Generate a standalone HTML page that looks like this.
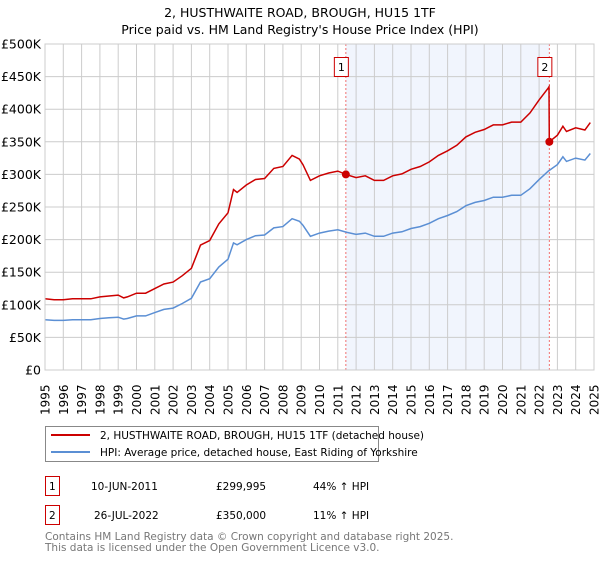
<!DOCTYPE html>
<html><head><meta charset="utf-8"><style>
body{margin:0;background:#fff;font-family:"Liberation Sans","DejaVu Sans",sans-serif;}
svg text{font-family:"DejaVu Sans","Liberation Sans",sans-serif;}
</style></head><body>
<svg id="c" width="600" height="560" viewBox="0 0 600 560" xmlns="http://www.w3.org/2000/svg">
<text x="300" y="17" text-anchor="middle" font-size="12.5">2, HUSTHWAITE ROAD, BROUGH, HU15 1TF</text>
<text x="300" y="34" text-anchor="middle" font-size="12.5">Price paid vs. HM Land Registry's House Price Index (HPI)</text>
<g id="grid"></g><g id="series"></g>
<g>
<rect x="45.5" y="426.5" width="333" height="35" fill="#fff" stroke="#888"/>
<line x1="51" y1="435" x2="90" y2="435" stroke="#cc0000" stroke-width="2"/>
<text x="100" y="439" font-size="10.5">2, HUSTHWAITE ROAD, BROUGH, HU15 1TF (detached house)</text>
<line x1="51" y1="452" x2="90" y2="452" stroke="#5b8fd4" stroke-width="2"/>
<text x="100" y="456" font-size="10.5">HPI: Average price, detached house, East Riding of Yorkshire</text>
</g>
<g font-size="10.5">
<rect x="45.5" y="476.5" width="14" height="19" fill="#fff" stroke="#cc0000"/><text x="49" y="490">1</text>
<text x="91" y="490">10-JUN-2011</text><text x="216" y="490">£299,995</text><text x="313" y="490">44% ↑ HPI</text>
<rect x="45.5" y="505.5" width="14" height="19" fill="#fff" stroke="#cc0000"/><text x="49" y="519">2</text>
<text x="94" y="519">26-JUL-2022</text><text x="216" y="519">£350,000</text><text x="313" y="519">11% ↑ HPI</text>
</g>
<text x="45" y="540" font-size="10.5" fill="#777">Contains HM Land Registry data © Crown copyright and database right 2025.</text>
<text x="45" y="551" font-size="10.5" fill="#777">This data is licensed under the Open Government Licence v3.0.</text>
</svg>
<script>
const hpiYears=[1995,1995.5,1996,1996.5,1997,1997.5,1998,1998.5,1999,1999.3,1999.5,2000,2000.5,2001,2001.5,2002,2002.5,2003,2003.5,2004,2004.5,2005,2005.3,2005.5,2006,2006.5,2007,2007.5,2008,2008.5,2008.9,2009.1,2009.5,2010,2010.5,2011,2011.5,2012,2012.5,2013,2013.5,2014,2014.5,2015,2015.5,2016,2016.5,2017,2017.5,2018,2018.5,2019,2019.5,2020,2020.5,2021,2021.5,2022,2022.5,2023,2023.3,2023.5,2024,2024.5,2024.8];
const hpiValues=[77,76,76,77,77,77,79,80,81,78,79,83,83,88,93,95,102,110,135,140,158,170,195,192,200,206,207,218,220,232,228,222,205,210,213,215,211,208,210,205,205,210,212,217,220,225,232,237,243,252,257,260,265,265,268,268,278,292,305,315,327,320,325,322,332];
const saleYears=[2011.44,2022.56];
const salePrices=[299995,350000];
const saleLabels=["1","2"];
const yTicks=[0,50,100,150,200,250,300,350,400,450,500];
const yTickLabels=["£0","£50K","£100K","£150K","£200K","£250K","£300K","£350K","£400K","£450K","£500K"];
const xTicks=[1995,1996,1997,1998,1999,2000,2001,2002,2003,2004,2005,2006,2007,2008,2009,2010,2011,2012,2013,2014,2015,2016,2017,2018,2019,2020,2021,2022,2023,2024,2025];
const NS="http://www.w3.org/2000/svg";
const X0=45,X1=594,Y0=370,Y1=44;
const xs=y=>X0+(y-1995)/30*(X1-X0);
const ys=v=>Y0-v/500*(Y0-Y1);
function mk(t,a,p){const e=document.createElementNS(NS,t);for(const k in a)e.setAttribute(k,a[k]);p.appendChild(e);return e;}
const g=document.getElementById('grid'),s=document.getElementById('series');
let sh=mk('rect',{x:xs(saleYears[0]),y:Y1,width:xs(saleYears[1])-xs(saleYears[0]),height:Y0-Y1,fill:'#eef3fc',opacity:0.8},g);


yTicks.forEach((v,i)=>{
 const l=mk('line',{x1:X0,x2:X1,y1:ys(v),y2:ys(v),stroke:'#ccc'},g);
 
 
 const t=mk('text',{x:X0-4,y:ys(v)+4.5,'text-anchor':'end','font-size':12.5},g);t.textContent=yTickLabels[i];
 
 
});
xTicks.forEach(y=>{
 const l=mk('line',{x1:xs(y),x2:xs(y),y1:Y1,y2:Y0,stroke:'#ccc'},g);
 
 
 const t=mk('text',{x:0,y:0,'font-size':12,transform:`translate(${xs(y)+4.5},${Y0+45}) rotate(-90)`},g);t.textContent=y;
 
 
});
function hpiAt(y){for(let i=0;i<hpiYears.length-1;i++){if(y<=hpiYears[i+1]){const f=(y-hpiYears[i])/(hpiYears[i+1]-hpiYears[i]);return hpiValues[i]+f*(hpiValues[i+1]-hpiValues[i]);}}return hpiValues[hpiValues.length-1];}
const r1=salePrices[0]/1000/hpiAt(saleYears[0]),r2=salePrices[1]/1000/hpiAt(saleYears[1]);
saleYears.forEach((sy,i)=>{
 const l=mk('line',{x1:xs(sy),x2:xs(sy),y1:Y1,y2:Y0,stroke:'#f07070','stroke-dasharray':'2,2'},g);
 
 
 const b=mk('rect',{x:xs(sy)-11.5,y:57.5,width:14,height:19,fill:'#fff',stroke:'#cc0000'},g);
 
 
 const t=mk('text',{x:xs(sy)-4.5,y:71,'text-anchor':'middle','font-size':11},g);t.textContent=saleLabels[i];
});
let hp='',rp='',rp2='';
hpiYears.forEach((y,i)=>{hp+=(i?'L':'M')+xs(y).toFixed(1)+','+ys(hpiValues[i]).toFixed(1);});
const pre=[],post=[];
hpiYears.forEach((y,i)=>{if(y<saleYears[1])pre.push([y,hpiValues[i]*r1]);else post.push([y,hpiValues[i]*r2]);});
pre.push([saleYears[1]-0.02,hpiAt(saleYears[1])*r1]);
pre.push([saleYears[1],salePrices[1]/1000]);
pre.concat(post).forEach((p,i)=>{rp+=(i?'L':'M')+xs(p[0]).toFixed(1)+','+ys(p[1]).toFixed(1);});
const hl=mk('path',{d:hp,fill:'none',stroke:'#5b8fd4','stroke-width':1.5},s);


const rl=mk('path',{d:rp,fill:'none',stroke:'#cc0000','stroke-width':1.5},s);


saleYears.forEach((sy,i)=>{
 const c=mk('circle',{cx:xs(sy),cy:ys(salePrices[i]/1000),r:4,fill:'#cc0000'},s);
 
 
});
const ax=mk('rect',{x:X0,y:Y1,width:X1-X0,height:Y0-Y1,fill:'none',stroke:'#ccc'},s);


</script>
</body></html>
